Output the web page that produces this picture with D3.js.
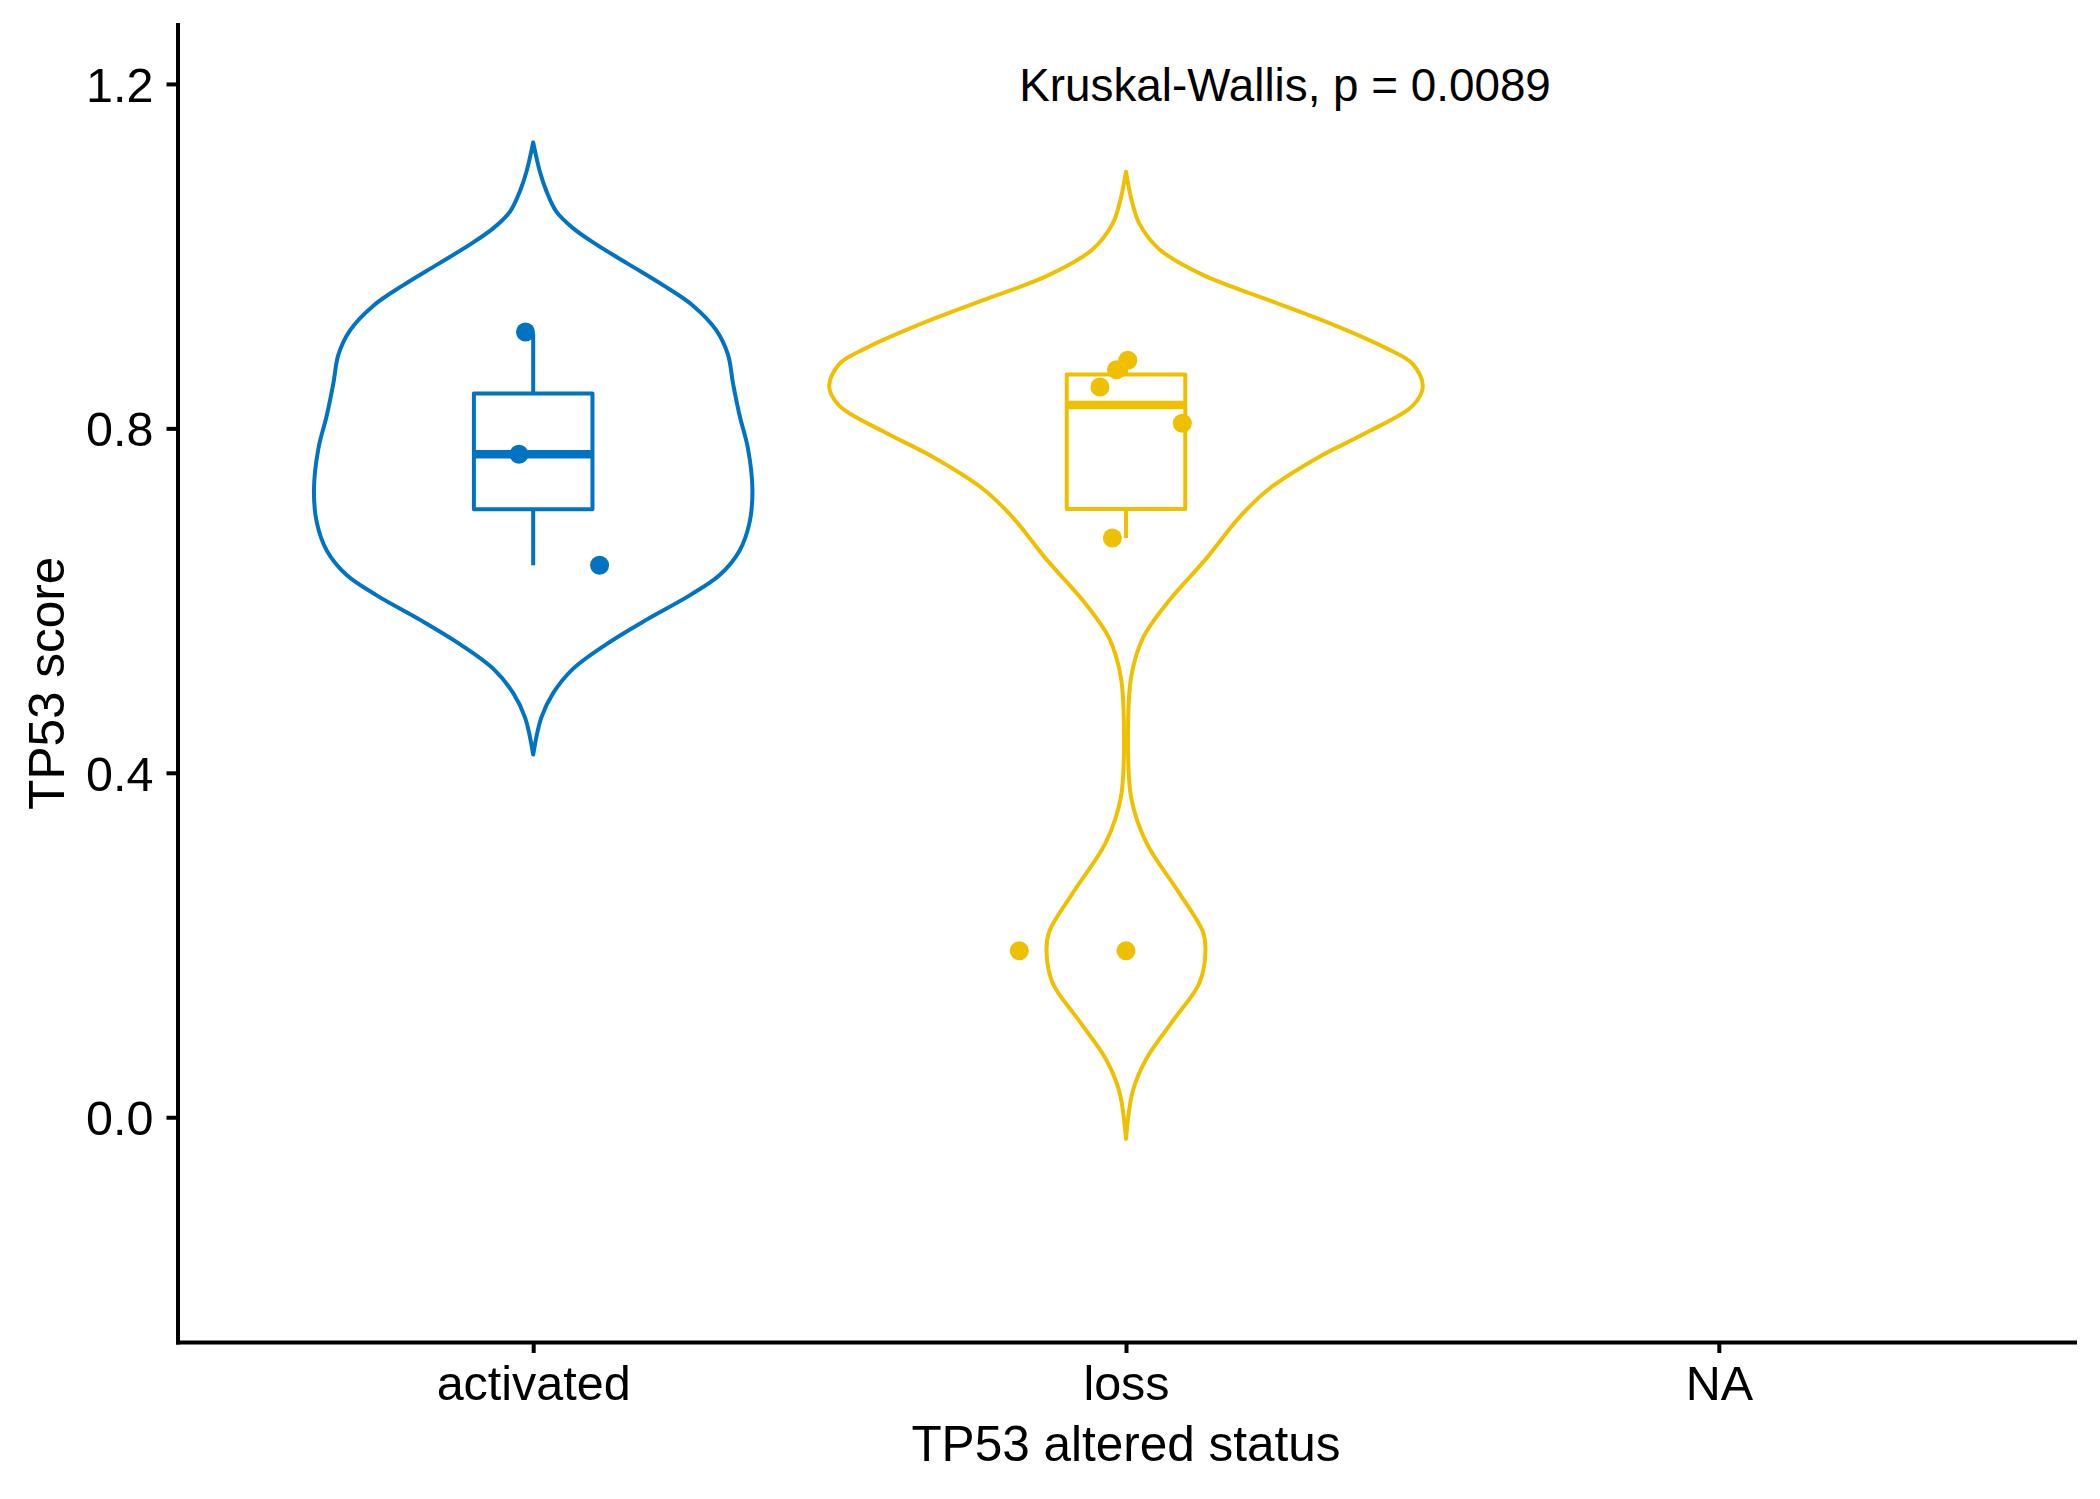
<!DOCTYPE html>
<html>
<head>
<meta charset="utf-8">
<script src="https://cdn.jsdelivr.net/npm/d3@7"></script>
<style>
  html, body { margin: 0; padding: 0; background: #ffffff; }
  svg { display: block; }
  text { font-family: "Liberation Sans", Arial, Helvetica, sans-serif; fill: #000; }
</style>
</head>
<body>
<script>
// ---------------- data ----------------
const categories = ["activated", "loss", "NA"];
const groupColors = ["#0073C2", "#EFC000"];
const yTicks = [0.0, 0.4, 0.8, 1.2];
const yDomain = [-0.261, 1.269];

// violin outlines: score value and half-width (in category units)
const activatedViolinY = [1.1321, 1.0989, 1.0755, 1.0516, 1.0325, 1.0136, 0.9899, 0.9663, 0.9425, 0.9141, 0.8856, 0.8525, 0.8146, 0.7766, 0.7295, 0.6914, 0.6582, 0.6296, 0.6061, 0.5776, 0.5492, 0.5207, 0.4923, 0.4638, 0.4212];
const activatedViolinW = [0, 0.011, 0.0223, 0.0391, 0.0671, 0.1063, 0.1628, 0.219, 0.2696, 0.3087, 0.3286, 0.337, 0.3483, 0.3623, 0.3698, 0.3652, 0.3483, 0.3146, 0.264, 0.1906, 0.1231, 0.0671, 0.0334, 0.0135, 0];
const lossViolinY = [1.0981, 1.0670, 1.0374, 1.0078, 0.9782, 0.9486, 0.9190, 0.8932, 0.8746, 0.8486, 0.8264, 0.7968, 0.7671, 0.7302, 0.6970, 0.6487, 0.6006, 0.5561, 0.5117, 0.4450, 0.3710, 0.3192, 0.2600, 0.2155, 0.1933, 0.1563, 0.1118, 0.0677, 0.0305, -0.0252];
const lossViolinW = [0, 0.0088, 0.0228, 0.0565, 0.1296, 0.2421, 0.3543, 0.4386, 0.4838, 0.5007, 0.4838, 0.4108, 0.3264, 0.2421, 0.1915, 0.1353, 0.0734, 0.0283, 0.0088, 0.0034, 0.0088, 0.0341, 0.0902, 0.1296, 0.1341, 0.124, 0.0789, 0.0341, 0.0115, 0];

// box plot statistics per group
const boxGroups = ["activated", "loss"];
const boxLower  = [0.641, 0.6726];
const boxQ1     = [0.706, 0.7063];
const boxMedian = [0.770, 0.827];
const boxQ3     = [0.8406, 0.8626];
const boxUpper  = [0.910, 0.879];

// jittered points: score and horizontal jitter (category units)
const activatedPointsY = [0.912, 0.770, 0.641];
const activatedJitter  = [-0.013, -0.024, 0.112];
const lossPointsY = [0.879, 0.868, 0.848, 0.806, 0.6726, 0.1933, 0.1933];
const lossJitter  = [0.003, -0.016, -0.044, 0.095, -0.023, -0.18, 0.0];

const statLabel = "Kruskal-Wallis, p = 0.0089";
const statLabelX = 1.82;   // in category positions (1 = activated)
const statLabelY = 1.2;
const xTitle = "TP53 altered status";
const yTitle = "TP53 score";

// ---------------- layout ----------------
const W = 2100, H = 1499;
const mLeft = 177.5, mRight = 2074.5, mTop = 24.5, mBottom = 1342;
const lw = 4;

const svg = d3.select("body").append("svg").attr("width", W).attr("height", H);
svg.append("rect").attr("width", W).attr("height", H).attr("fill", "#fff");

const x = d3.scalePoint().domain(categories).range([mLeft, mRight]).padding(0.6);
const step = x.step();
const y = d3.scaleLinear().domain(yDomain).range([mBottom, mTop]);
const xPos = v => x(categories[0]) + (v - 1) * step;

// ---------------- violins ----------------
const violins = [
  { g: "activated", ys: activatedViolinY, ws: activatedViolinW, c: groupColors[0] },
  { g: "loss", ys: lossViolinY, ws: lossViolinW, c: groupColors[1] }
];
violins.forEach(v => {
  const pts = v.ys.map((yy, i) => ({ y: yy, w: v.ws[i] }));
  const cx = x(v.g);
  const area = d3.area()
    .y(d => y(d.y))
    .x0(d => cx - d.w * step)
    .x1(d => cx + d.w * step)
    .curve(d3.curveCatmullRom.alpha(0.5));
  svg.append("path").attr("d", area(pts))
    .attr("fill", "#fff").attr("stroke", v.c).attr("stroke-width", lw)
    .attr("stroke-linejoin", "round");
});

// ---------------- boxes ----------------
const boxW = 0.2;
boxGroups.forEach((g, i) => {
  const cx = x(g), c = groupColors[i];
  const gg = svg.append("g");
  gg.append("line").attr("x1", cx).attr("x2", cx).attr("y1", y(boxQ3[i])).attr("y2", y(boxUpper[i]))
    .attr("stroke", c).attr("stroke-width", lw);
  gg.append("line").attr("x1", cx).attr("x2", cx).attr("y1", y(boxQ1[i])).attr("y2", y(boxLower[i]))
    .attr("stroke", c).attr("stroke-width", lw);
  gg.append("rect")
    .attr("x", cx - boxW / 2 * step).attr("width", boxW * step)
    .attr("y", y(boxQ3[i])).attr("height", y(boxQ1[i]) - y(boxQ3[i]))
    .attr("fill", "#fff").attr("stroke", c).attr("stroke-width", lw).attr("stroke-linejoin", "round");
  gg.append("line").attr("x1", cx - boxW / 2 * step).attr("x2", cx + boxW / 2 * step)
    .attr("y1", y(boxMedian[i])).attr("y2", y(boxMedian[i]))
    .attr("stroke", c).attr("stroke-width", 8.5);
});

// ---------------- points ----------------
const pointSets = [
  { g: "activated", ys: activatedPointsY, js: activatedJitter, c: groupColors[0] },
  { g: "loss", ys: lossPointsY, js: lossJitter, c: groupColors[1] }
];
pointSets.forEach(p => {
  svg.append("g").selectAll("circle").data(p.ys.map((v, i) => ({ v, j: p.js[i] })))
    .join("circle")
    .attr("cx", d => x(p.g) + d.j * step)
    .attr("cy", d => y(d.v))
    .attr("r", 9.5)
    .attr("fill", p.c);
});

// ---------------- axes ----------------
const yAxis = svg.append("g").attr("transform", `translate(${mLeft},0)`)
  .call(d3.axisLeft(y).tickValues(yTicks).tickFormat(d3.format(".1f")).tickSize(11).tickSizeOuter(0).tickPadding(13));
const xAxis = svg.append("g").attr("transform", `translate(0,${mBottom})`)
  .call(d3.axisBottom(x).tickSize(11).tickSizeOuter(0).tickPadding(13));

[yAxis, xAxis].forEach(a => {
  a.select(".domain").attr("stroke", "#000").attr("stroke-width", lw).attr("stroke-linecap", "square");
  a.selectAll(".tick line").attr("stroke", "#000").attr("stroke-width", lw);
  a.selectAll(".tick text").attr("font-size", 48.5).attr("fill", "#000")
    .style("font-family", '"Liberation Sans", Arial, Helvetica, sans-serif');
});
yAxis.selectAll(".tick text").attr("dy", "0.36em");
xAxis.selectAll(".tick text").attr("dy", "0.71em");

// ---------------- titles ----------------
svg.append("text").attr("x", (mLeft + mRight) / 2).attr("y", 1461)
  .attr("text-anchor", "middle").attr("font-size", 49.5).text(xTitle);
svg.append("text")
  .attr("transform", `translate(64,${(mTop + mBottom) / 2}) rotate(-90)`)
  .attr("text-anchor", "middle").attr("font-size", 49.5).text(yTitle);

// ---------------- statistic label ----------------
svg.append("text").attr("x", xPos(statLabelX)).attr("y", y(statLabelY) + 17)
  .attr("font-size", 45.8).text(statLabel);
</script>
</body>
</html>
